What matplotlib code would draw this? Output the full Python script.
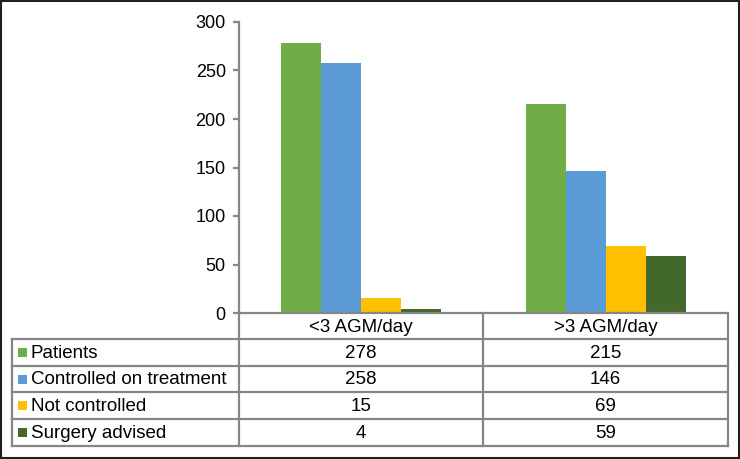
import matplotlib
matplotlib.use("Agg")
import matplotlib.pyplot as plt
from matplotlib.patches import Rectangle
import numpy as np

plt.rcParams['font.family'] = ['Liberation Sans', 'DejaVu Sans']

categories = ["<3 AGM/day", ">3 AGM/day"]
series_names = ["Patients", "Controlled on treatment", "Not controlled", "Surgery advised"]
patients = [278, 215]
controlled = [258, 146]
not_controlled = [15, 69]
surgery = [4, 59]
series_values = [patients, controlled, not_controlled, surgery]
colors = ["#70AD47", "#5B9BD5", "#FFC000", "#43682B"]
yticks = [0, 50, 100, 150, 200, 250, 300]

W, H = 740, 459
fig = plt.figure(figsize=(W / 100, H / 100), dpi=100)
grey = "#868686"
lw = 1.6
fs = 13.5

# plot area in pixel coords
x0, x1 = 239, 728
ytop, ybase = 22, 313
ax = fig.add_axes([x0 / W, (H - ybase) / H, (x1 - x0) / W, (ybase - ytop) / H])
x = np.arange(len(categories))
width = 0.164
for i, (vals, c) in enumerate(zip(series_values, colors)):
    ax.bar(x + (i - 1.5) * width, vals, width, color=c, zorder=2)
ax.set_xlim(-0.5, len(categories) - 0.5)
ax.set_ylim(0, 300)
ax.set_yticks(yticks)
ax.set_xticks([])
for s in ["top", "right"]:
    ax.spines[s].set_visible(False)
ax.spines["left"].set_color(grey)
ax.spines["left"].set_linewidth(lw)
ax.spines["bottom"].set_color(grey)
ax.spines["bottom"].set_linewidth(lw)
ax.tick_params(axis="y", colors=grey, labelcolor="black", length=4.5, width=lw,
               labelsize=13, pad=5)

# overlay in pixel coords for the data table
ov = fig.add_axes([0, 0, 1, 1], zorder=5)
ov.set_xlim(0, W)
ov.set_ylim(H, 0)
ov.axis("off")
ov.patch.set_alpha(0)

row_edges = [313, 339.3, 365.7, 392.3, 419.3, 445.7]
col_x = [x0, 483, x1]
for yy in row_edges[1:]:
    ov.plot([12, x1], [yy, yy], color=grey, lw=lw, solid_capstyle="projecting")
ov.plot([12, 12], [row_edges[1], row_edges[-1]], color=grey, lw=lw)
for xx in col_x:
    ov.plot([xx, xx], [row_edges[0], row_edges[-1]], color=grey, lw=lw)

centers = [(col_x[0] + col_x[1]) / 2, (col_x[1] + col_x[2]) / 2]
hy = (row_edges[0] + row_edges[1]) / 2
for cx, cat in zip(centers, categories):
    ov.text(cx, hy + 1, cat, ha="center", va="center", fontsize=fs)

for r, (name, vals, c) in enumerate(zip(series_names, series_values, colors)):
    cy = (row_edges[r + 1] + row_edges[r + 2]) / 2
    ov.add_patch(Rectangle((18, cy - 4.5), 9, 9, facecolor=c, edgecolor="none"))
    ov.text(31, cy + 0.5, name, ha="left", va="center", fontsize=fs)
    for cx, v in zip(centers, vals):
        ov.text(cx, cy + 0.5, str(v), ha="center", va="center", fontsize=fs)

# outer border
ov.add_patch(Rectangle((0.5, 0.5), W - 1.5, H - 1.5, fill=False, edgecolor="#231f20", lw=1.5))

fig.savefig("out.png", dpi=100)
